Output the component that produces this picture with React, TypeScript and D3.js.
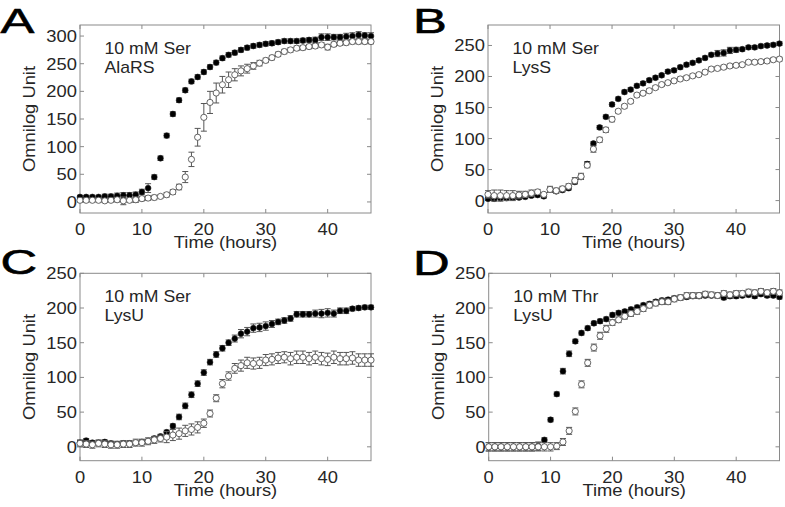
import React from "react";
import * as d3 from "d3";

const hours = [0,1,2,3,4,5,6,7,8,9,10,11,12,13,14,15,16,17,18,19,20,21,22,23,24,25,26,27,28,29,30,31,32,33,34,35,36,37,38,39,40,41,42,43,44,45,46,47];
const xTicks = [0, 10, 20, 30, 40];
const yTicksA = [0, 50, 100, 150, 200, 250, 300];
const yTicksB = [0, 50, 100, 150, 200, 250];
const yTicksCD = [0, 50, 100, 150, 200, 250];

const panelLetters = ["A", "B", "C", "D"];
const conditionLabels = ["10 mM Ser", "10 mM Ser", "10 mM Ser", "10 mM Thr"];
const strainLabels = ["AlaRS", "LysS", "LysU", "LysU"];
const xAxisLabel = "Time (hours)";
const yAxisLabel = "Omnilog Unit";

// Panel A — 10 mM Ser, AlaRS
const aFilled = [9,9,9,9,10,10,11,12,12,13,18,25,45,79,120,159,184,202,218,226,235,244,252,260,266,270,275,279,282,284,286,287,289,291,291,291,292,293,293,298,298,298,298,299,300,302,301,300];
const aFilledErr = [3,3,3,3,4,4,5,5,5,5,5,8,4,4,4,4,4,4,4,4,4,4,4,4,4,4,4,4,4,4,4,4,4,4,4,4,4,4,5,6,6,5,5,6,6,6,5,6];
const aOpen = [3,3,3,3,2,3,4,2,3,4,6,7,8,10,13,18,27,45,77,117,153,180,197,212,221,230,237,241,246,251,256,261,267,272,275,278,279,281,282,284,280,285,287,288,290,290,290,290];
const aOpenErr = [3,3,3,3,3,3,4,7,4,5,4,4,4,3,4,4,5,10,13,16,25,20,18,15,14,11,9,8,6,5,4,4,4,4,4,4,4,4,4,4,5,4,4,4,4,4,4,4];

// Panel B — 10 mM Ser, LysS
const bFilled = [3,3,4,4,5,5,6,8,9,7,18,15,17,20,30,38,59,92,118,135,155,164,175,179,185,189,194,198,202,208,210,215,219,222,226,230,235,237,238,242,243,244,247,247,249,250,251,253];
const bFilledErr = [3,3,3,3,3,3,3,3,3,3,3,3,3,3,3,3,4,3,3,3,3,3,3,3,3,3,3,3,3,3,3,3,3,3,3,3,3,5,5,5,4,3,3,3,3,3,3,3];
const bOpen = [10,8,8,8,8,9,10,12,14,10,18,16,19,23,32,39,57,83,98,114,131,144,152,160,170,173,177,182,187,190,193,196,198,201,203,207,212,213,215,217,218,219,223,223,224,225,227,228];
const bOpenErr = [6,9,9,8,8,6,5,5,4,3,5,4,4,4,5,5,4,5,4,4,4,3,3,3,3,3,3,3,3,3,3,3,3,3,3,3,3,3,3,3,3,3,3,3,3,3,3,3];

// Panel C — 10 mM Ser, LysU
const cFilled = [6,9,6,6,7,5,4,5,5,6,7,8,12,15,21,30,43,59,75,91,107,122,133,142,150,156,163,166,171,172,174,177,180,182,185,191,191,191,192,192,193,192,196,196,199,200,201,201];
const cFilledErr = [3,3,3,3,3,3,3,3,3,3,3,3,3,3,3,3,4,4,4,4,4,4,4,4,4,5,6,6,6,6,6,5,4,4,4,4,4,4,5,6,6,5,4,4,3,3,3,3];
const cOpen = [5,4,3,5,4,3,3,4,4,6,6,8,10,12,14,17,19,23,25,28,34,48,70,91,102,113,117,121,120,121,125,126,128,129,127,129,129,127,129,127,126,129,127,127,128,125,125,125];
const cOpenErr = [5,5,5,5,5,5,5,5,5,5,5,5,5,5,8,8,8,8,8,8,6,5,5,6,6,7,8,8,8,8,8,8,8,8,9,9,9,9,9,9,9,9,9,9,9,9,9,9];

// Panel D — 10 mM Thr, LysU
const dFilled = [0,0,0,0,0,0,0,0,1,10,39,76,109,134,152,164,171,178,181,184,190,193,195,198,201,204,206,209,211,212,214,215,216,217,217,218,218,218,215,217,217,218,219,217,220,218,218,216];
const dFilledErr = [6,6,6,6,6,6,6,6,6,3,3,3,4,4,3,3,3,3,3,3,3,3,3,3,3,3,3,3,3,3,3,3,3,3,3,3,3,3,3,3,3,3,3,3,3,3,3,3];
const dOpen = [0,0,0,0,0,0,0,0,0,0,0,1,7,23,51,90,121,143,160,170,179,183,188,192,195,199,204,207,209,209,213,215,218,218,218,220,219,218,221,219,221,221,223,222,224,222,224,222];
const dOpenErr = [6,6,6,6,6,6,6,6,6,6,6,5,5,5,5,5,5,5,5,5,4,4,4,4,4,4,4,4,4,4,4,4,4,4,4,4,4,4,4,4,4,4,4,4,4,4,4,4];

const panels = [
  { filled: aFilled, filledErr: aFilledErr, open: aOpen, openErr: aOpenErr, yTicks: yTicksA, yDomain: [-20, 320] },
  { filled: bFilled, filledErr: bFilledErr, open: bOpen, openErr: bOpenErr, yTicks: yTicksB, yDomain: [-20, 283] },
  { filled: cFilled, filledErr: cFilledErr, open: cOpen, openErr: cOpenErr, yTicks: yTicksCD, yDomain: [-20, 250] },
  { filled: dFilled, filledErr: dFilledErr, open: dOpen, openErr: dOpenErr, yTicks: yTicksCD, yDomain: [-20, 250] },
];

const boxes = [
  { left: 80, top: 25, right: 371, bottom: 213, letterX: 0.5, letterY: 33 },
  { left: 488, top: 25, right: 779.5, bottom: 213, letterX: 413, letterY: 33 },
  { left: 80, top: 273.3, right: 371, bottom: 460.7, letterX: 0.5, letterY: 274 },
  { left: 488.7, top: 273.3, right: 779.5, bottom: 460.7, letterX: 413, letterY: 275 },
];

const FONT = "'Liberation Sans', Arial, Helvetica, sans-serif";
const TEXT_COLOR = "#262626";
const AXIS_COLOR = "#8a8a8a";
const BAR_COLOR = "#555";

function SText(props: { x: number; y: number; sx?: number; size?: number; anchor?: string; fill?: string; rotate?: number; stroke?: number; children: any }) {
  const { x, y, sx = 1.08, size = 17, anchor = "start", fill = TEXT_COLOR, rotate = 0, stroke = 0, children } = props;
  return (
    <text
      transform={`translate(${x},${y}) rotate(${rotate}) scale(${sx},1)`}
      textAnchor={anchor as any}
      fontSize={size}
      fontFamily={FONT}
      fill={fill}
      stroke={stroke ? fill : "none"}
      strokeWidth={stroke}
    >
      {children}
    </text>
  );
}

function Panel({ idx }: { idx: number }) {
  const p = panels[idx];
  const b = boxes[idx];
  const x = d3.scaleLinear().domain([0, 47]).range([b.left, b.right]);
  const y = d3.scaleLinear().domain(p.yDomain).range([b.bottom, b.top]);
  const tl = 4;
  const cap = 3;

  const series = [
    { vals: p.filled, errs: p.filledErr, filled: true },
    { vals: p.open, errs: p.openErr, filled: false },
  ];

  return (
    <g>
      <rect x={b.left} y={b.top} width={b.right - b.left} height={b.bottom - b.top} fill="white" stroke={AXIS_COLOR} strokeWidth={1} />
      {xTicks.map((t) => (
        <g key={"xt" + t}>
          <line x1={x(t)} x2={x(t)} y1={b.bottom} y2={b.bottom - tl} stroke={AXIS_COLOR} />
          <line x1={x(t)} x2={x(t)} y1={b.top} y2={b.top + tl} stroke={AXIS_COLOR} />
          <SText x={x(t)} y={b.bottom + 22} anchor="middle">{String(t)}</SText>
        </g>
      ))}
      {p.yTicks.map((t) => (
        <g key={"yt" + t}>
          <line x1={b.left} x2={b.left + tl} y1={y(t)} y2={y(t)} stroke={AXIS_COLOR} />
          <line x1={b.right} x2={b.right - tl} y1={y(t)} y2={y(t)} stroke={AXIS_COLOR} />
          <SText x={b.left - 3} y={y(t) + 6} anchor="end">{String(t)}</SText>
        </g>
      ))}
      <SText x={(b.left + b.right) / 2} y={b.bottom + 35} anchor="middle">{xAxisLabel}</SText>
      <SText x={b.left - 45} y={(b.top + b.bottom) / 2} anchor="middle" rotate={-90}>{yAxisLabel}</SText>
      <SText x={b.left + 24.5} y={b.top + 28.5} size={17} sx={1.04}>{conditionLabels[idx]}</SText>
      <SText x={b.left + 24.5} y={b.top + 48} size={17} sx={1.04}>{strainLabels[idx]}</SText>
      <SText x={b.letterX} y={b.letterY} size={35} sx={1.45} fill="#000" stroke={0.6}>{panelLetters[idx]}</SText>
      {series.map((s, si) => (
        <g key={"s" + si}>
          {hours.map((h, i) => {
            const cx = x(h);
            const y1 = y(s.vals[i] - s.errs[i]);
            const y2 = y(s.vals[i] + s.errs[i]);
            return (
              <g key={i} stroke={BAR_COLOR} strokeWidth={1}>
                <line x1={cx} x2={cx} y1={y1} y2={y2} />
                <line x1={cx - cap} x2={cx + cap} y1={y1} y2={y1} />
                <line x1={cx - cap} x2={cx + cap} y1={y2} y2={y2} />
              </g>
            );
          })}
          {hours.map((h, i) => (
            <circle
              key={"c" + i}
              cx={x(h)}
              cy={y(s.vals[i])}
              r={s.filled ? 2.9 : 3.1}
              fill={s.filled ? "#000" : "#fff"}
              stroke={s.filled ? "#222" : "#555"}
              strokeWidth={s.filled ? 0.6 : 0.9}
            />
          ))}
        </g>
      ))}
    </g>
  );
}

export default function App() {
  return (
    <svg width={785} height={507} style={{ position: "absolute", left: 0, top: 0, background: "white" }}>
      <rect x={0} y={0} width={785} height={507} fill="white" />
      {[0, 1, 2, 3].map((i) => (
        <Panel key={i} idx={i} />
      ))}
    </svg>
  );
}
